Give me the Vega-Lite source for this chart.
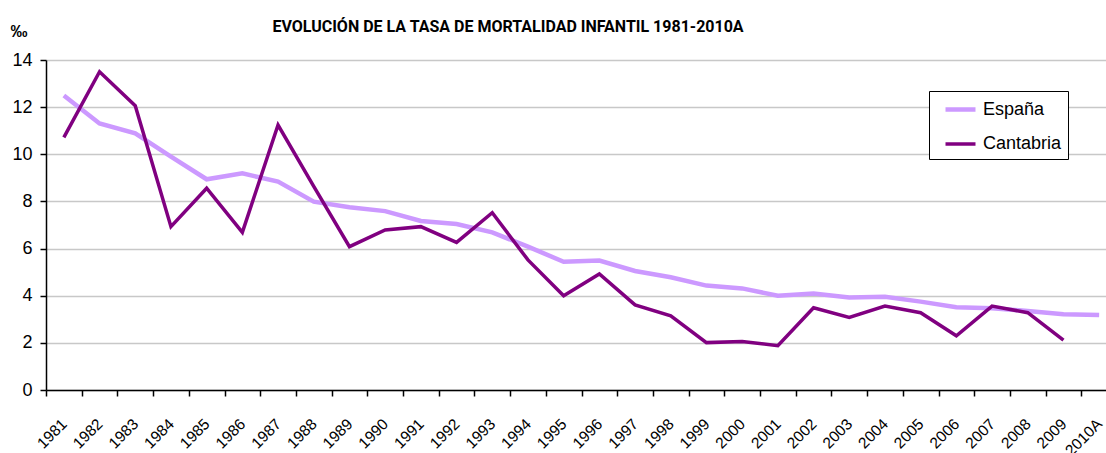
{
  "$schema": "https://vega.github.io/schema/vega-lite/v6.json",
  "autosize": {"type": "none"},
  "width": 1060,
  "height": 330,
  "padding": {"left": 46, "top": 60, "right": 0, "bottom": 63},
  "background": "white",
  "title": {
    "text": "EVOLUCIÓN DE LA TASA DE MORTALIDAD INFANTIL 1981-2010A",
    "font": "Roboto",
    "fontSize": 16,
    "fontWeight": "bold",
    "color": "#000000",
    "anchor": "middle",
    "frame": "group",
    "baseline": "alphabetic",
    "dx": -68,
    "offset": -26
  },
  "data": {
    "values": [
      {"year": "1981", "serie": "España", "v": 12.49}, {"year": "1981", "serie": "Cantabria", "v": 10.72},
      {"year": "1982", "serie": "España", "v": 11.31}, {"year": "1982", "serie": "Cantabria", "v": 13.5},
      {"year": "1983", "serie": "España", "v": 10.89}, {"year": "1983", "serie": "Cantabria", "v": 12.06},
      {"year": "1984", "serie": "España", "v": 9.9}, {"year": "1984", "serie": "Cantabria", "v": 6.93},
      {"year": "1985", "serie": "España", "v": 8.94}, {"year": "1985", "serie": "Cantabria", "v": 8.56},
      {"year": "1986", "serie": "España", "v": 9.19}, {"year": "1986", "serie": "Cantabria", "v": 6.69},
      {"year": "1987", "serie": "España", "v": 8.84}, {"year": "1987", "serie": "Cantabria", "v": 11.24},
      {"year": "1988", "serie": "España", "v": 7.99}, {"year": "1988", "serie": "Cantabria", "v": 8.64},
      {"year": "1989", "serie": "España", "v": 7.75}, {"year": "1989", "serie": "Cantabria", "v": 6.08},
      {"year": "1990", "serie": "España", "v": 7.59}, {"year": "1990", "serie": "Cantabria", "v": 6.79},
      {"year": "1991", "serie": "España", "v": 7.17}, {"year": "1991", "serie": "Cantabria", "v": 6.93},
      {"year": "1992", "serie": "España", "v": 7.04}, {"year": "1992", "serie": "Cantabria", "v": 6.26},
      {"year": "1993", "serie": "España", "v": 6.69}, {"year": "1993", "serie": "Cantabria", "v": 7.52},
      {"year": "1994", "serie": "España", "v": 6.08}, {"year": "1994", "serie": "Cantabria", "v": 5.52},
      {"year": "1995", "serie": "España", "v": 5.44}, {"year": "1995", "serie": "Cantabria", "v": 4.0},
      {"year": "1996", "serie": "España", "v": 5.49}, {"year": "1996", "serie": "Cantabria", "v": 4.92},
      {"year": "1997", "serie": "España", "v": 5.05}, {"year": "1997", "serie": "Cantabria", "v": 3.61},
      {"year": "1998", "serie": "España", "v": 4.78}, {"year": "1998", "serie": "Cantabria", "v": 3.15},
      {"year": "1999", "serie": "España", "v": 4.43}, {"year": "1999", "serie": "Cantabria", "v": 2.01},
      {"year": "2000", "serie": "España", "v": 4.31}, {"year": "2000", "serie": "Cantabria", "v": 2.06},
      {"year": "2001", "serie": "España", "v": 4.0}, {"year": "2001", "serie": "Cantabria", "v": 1.88},
      {"year": "2002", "serie": "España", "v": 4.09}, {"year": "2002", "serie": "Cantabria", "v": 3.49},
      {"year": "2003", "serie": "España", "v": 3.92}, {"year": "2003", "serie": "Cantabria", "v": 3.08},
      {"year": "2004", "serie": "España", "v": 3.96}, {"year": "2004", "serie": "Cantabria", "v": 3.56},
      {"year": "2005", "serie": "España", "v": 3.75}, {"year": "2005", "serie": "Cantabria", "v": 3.28},
      {"year": "2006", "serie": "España", "v": 3.51}, {"year": "2006", "serie": "Cantabria", "v": 2.3},
      {"year": "2007", "serie": "España", "v": 3.47}, {"year": "2007", "serie": "Cantabria", "v": 3.56},
      {"year": "2008", "serie": "España", "v": 3.35}, {"year": "2008", "serie": "Cantabria", "v": 3.28},
      {"year": "2009", "serie": "España", "v": 3.21}, {"year": "2009", "serie": "Cantabria", "v": 2.12},
      {"year": "2010A", "serie": "España", "v": 3.18}
    ]
  },
  "mark": {"type": "line", "strokeJoin": "miter", "strokeCap": "butt"},
  "encoding": {
    "x": {
      "field": "year",
      "type": "ordinal",
      "sort": null,
      "scale": {"type": "band", "range": [0, 1071], "paddingInner": 0, "paddingOuter": 0},
      "axis": {
        "title": null,
        "tickBand": "extent",
        "labelAngle": -45,
        "labelAlign": "right",
        "labelBaseline": "middle",
        "labelPadding": 25,
        "labelFont": "Liberation Sans",
        "labelFontSize": 15.5,
        "labelColor": "#000000",
        "tickColor": "#000000",
        "tickSize": 6,
        "domainColor": "#000000",
        "domainWidth": 1.5,
        "tickWidth": 1.5,
        "grid": false
      }
    },
    "y": {
      "field": "v",
      "type": "quantitative",
      "scale": {"domain": [0, 14], "nice": false},
      "axis": {
        "values": [0, 2, 4, 6, 8, 10, 12, 14],
        "title": "‰",
        "titleAngle": 0,
        "titleAlign": "left",
        "titleBaseline": "alphabetic",
        "titleX": -36,
        "titleY": -24,
        "titleFont": "Liberation Sans",
        "titleFontSize": 17,
        "titleFontWeight": "bold",
        "titleColor": "#000000",
        "labelFont": "Liberation Sans",
        "labelFontSize": 18,
        "labelColor": "#000000",
        "labelPadding": 8,
        "tickSize": 6,
        "tickColor": "#000000",
        "tickWidth": 1.5,
        "domainColor": "#000000",
        "domainWidth": 1.5,
        "grid": true,
        "gridColor": "#c8c8c8",
        "gridWidth": 1.5
      }
    },
    "color": {
      "field": "serie",
      "type": "nominal",
      "sort": ["España", "Cantabria"],
      "scale": {"domain": ["España", "Cantabria"], "range": ["#cc99ff", "#800080"]},
      "legend": {
        "title": null,
        "orient": "none",
        "legendX": 883,
        "legendY": 31,
        "symbolType": "M-0.2,0H2.8",
        "symbolSize": 400,
        "symbolStrokeWidth": 4,
        "labelFont": "Liberation Sans",
        "labelFontSize": 18,
        "labelColor": "#000000",
        "labelOffset": 23,
        "rowPadding": 13,
        "strokeColor": "#000000",
        "fillColor": "white",
        "padding": 6
      }
    },
    "strokeWidth": {
      "field": "serie",
      "type": "nominal",
      "scale": {"domain": ["España", "Cantabria"], "range": [4.5, 3.5]},
      "legend": null
    }
  },
  "config": {"view": {"stroke": null}}
}
